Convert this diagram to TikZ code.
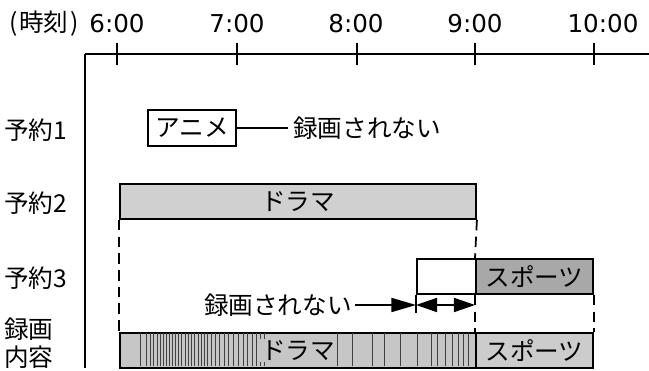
\documentclass[tikz,border=0pt]{standalone}
\usepackage{fontspec}
\setmainfont{Noto Sans CJK JP}
\newfontfamily\numfont{DejaVu Sans}
\usetikzlibrary{arrows.meta}
\definecolor{lightbar}{HTML}{D0D0D0}
\definecolor{darkbar}{HTML}{A8A8A8}
\definecolor{recbar}{HTML}{C6C6C6}
\definecolor{recbarb}{HTML}{CCCCCC}
\begin{document}
\begin{tikzpicture}[x=0.02cm,y=-0.02cm,
  every node/.style={inner sep=0pt, font=\fontsize{14}{16}\selectfont},
  timelbl/.style={font=\numfont\fontsize{14}{16}\selectfont},
  rowlbl/.style={anchor=west},
  axisline/.style={line width=0.9pt},
  tickline/.style={line width=0.9pt},
  barbox/.style={draw, line width=1.1pt, anchor=north west},
  guide/.style={dash pattern=on 6pt off 3.5pt, line width=1pt},
  thinline/.style={line width=0.8pt},
  arr/.style={-{Triangle[length=14pt,width=8pt]}, line width=0.9pt},
  darr/.style={{Triangle[length=12pt,width=8pt]}-{Triangle[length=12pt,width=8pt]}, line width=0.9pt},
  stripe/.style={line width=0.4pt, black!75}
]
\useasboundingbox (0,0) rectangle (649,371);

% axis
\coordinate (o) at (85,54);
\coordinate (oend) at (649,54);
\coordinate (obot) at (85,368);
\draw[axisline] (o) -- (oend);
\draw[axisline] (o) -- (obot);

\node (lbl) at (44,24) {(\kern1pt時刻\kern1pt)};
\foreach \x/\lx/\t/\n in {117/117/6:00/t6, 237/237/7:00/t7, 357/356/8:00/t8, 475/475/9:00/t9, 594/603/10:00/t10}{
  \coordinate (\n top) at (\x,43);
  \coordinate (\n bot) at (\x,65);
  \draw[tickline] (\n top) -- (\n bot);
  \node[timelbl] (\n lbl) at (\lx,24) {\t};
}

% row labels
\node[rowlbl] (r1) at (4,130) {予約1};
\node[rowlbl] (r2) at (4,203) {予約2};
\node[rowlbl] (r3) at (4,278) {予約3};
\node[rowlbl] (r4a) at (4,329) {録画};
\node[rowlbl] (r4b) at (4,357) {内容};

% reservation 1
\node[draw, line width=1pt, minimum width=88*0.02cm, minimum height=36*0.02cm] (anime) at (192,128) {アニメ};
\node[anchor=west] (norec1) at (293,128) {録画されない};
\draw[thinline] (anime.east) -- ([xshift=-5*0.02cm]norec1.west);

% reservation 2
\node[barbox, fill=lightbar, minimum width=356*0.02cm, minimum height=35*0.02cm] (drama2) at (119,183) {};
\node (drama2t) at (drama2.center) {ドラマ};

% reservation 3
\node[barbox, minimum width=59*0.02cm, minimum height=35*0.02cm] (gap3) at (416,258) {};
\node[barbox, fill=darkbar, minimum width=117*0.02cm, minimum height=35*0.02cm] (sport3) at (475,258) {};
\node (sport3t) at (sport3.center) {スポーツ};

% recording content
\node[barbox, fill=recbar, minimum width=356*0.02cm, minimum height=35*0.02cm] (dramaR) at (119,332) {};
\node[barbox, fill=recbarb, minimum width=117*0.02cm, minimum height=35*0.02cm] (sportR) at (475,332) {};
\foreach \x in {140,146,150,153,157,160,163,166,169,172,175,178,181,185,188,191,194,198,201,204,207,211,215,219,224,228,233,238,243,247,252,256,260,264,337,352,372,384,400,417,431,437,445,452,458,463,468}{
  \draw[stripe] (\x,333) -- (\x,366);
}
\node[fill=recbar, inner sep=1pt] (dramaRt) at (dramaR.center) {ドラマ};
\node (sportRt) at (sportR.center) {スポーツ};

% guide lines
\draw[guide] (drama2.south west) -- (dramaR.north west);
\draw[guide] (drama2.south east) -- (sport3.north west);
\draw[guide] (sport3.south west) -- (sportR.north west);
\draw[guide] (sport3.south east) -- (sportR.north east);

% not-recorded arrows
\coordinate (gapbot) at (416,313);
\coordinate (ga) at (416,305);
\coordinate (gb) at (475,305);
\draw[thinline] (gap3.south west) -- (gapbot);
\node[anchor=east] (norec3) at (352,305) {録画されない};
\draw[arr] ([xshift=3*0.02cm]norec3.east) -- (ga);
\draw[darr] (ga) -- (gb);
\end{tikzpicture}
\end{document}
